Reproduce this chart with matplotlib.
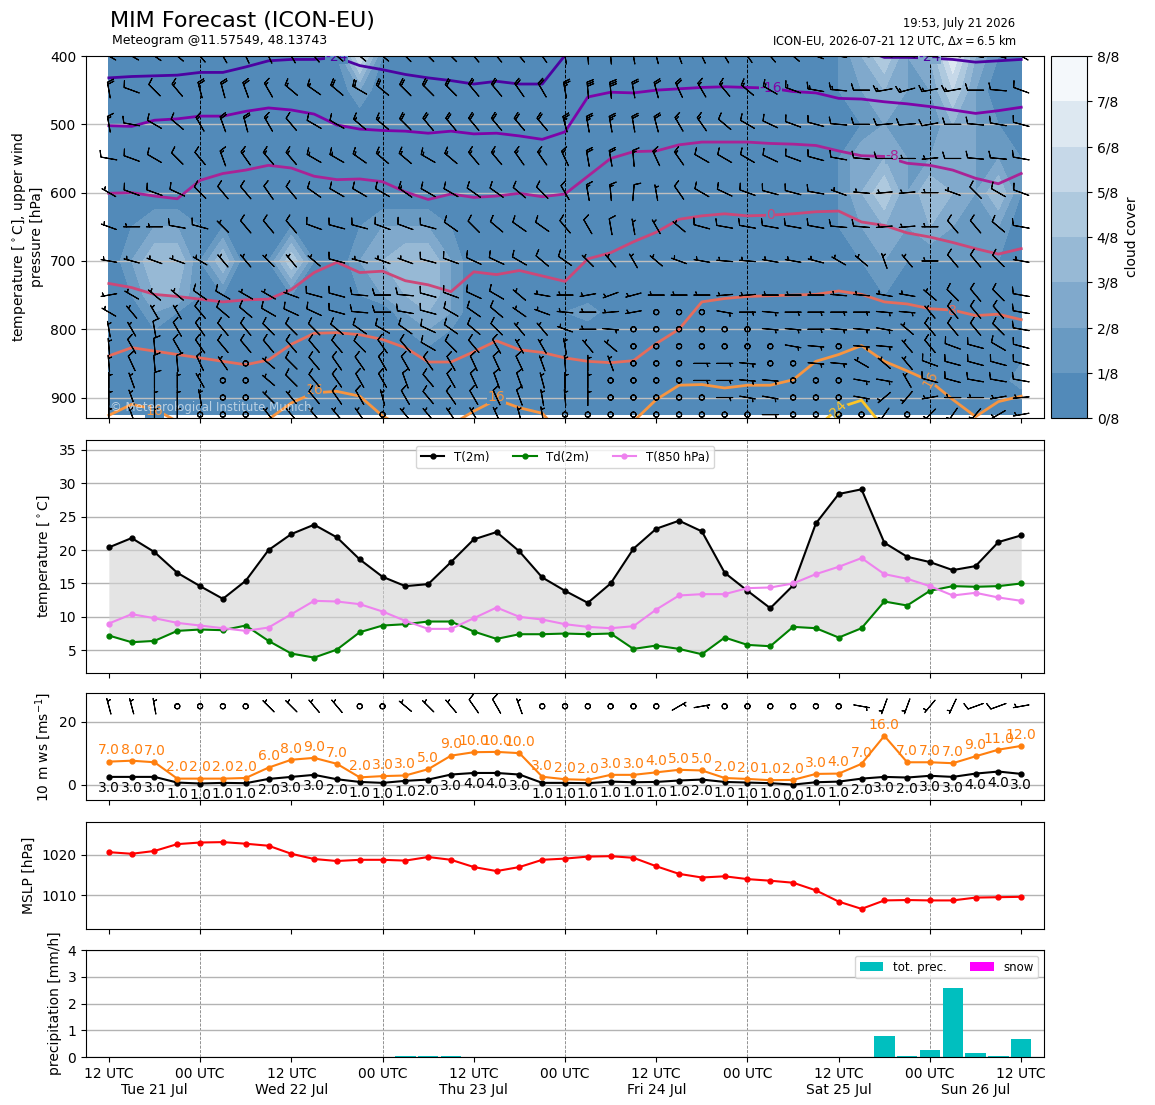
import numpy as np
import matplotlib
matplotlib.use("Agg")
import matplotlib.pyplot as plt
from matplotlib.colors import LinearSegmentedColormap

# ------------------------------------------------------------
# time axis: 3-hourly from 12 UTC Tue 21 Jul (hours since start)
# ------------------------------------------------------------
hours = np.arange(0, 121, 3)
xtick_hours = [0, 12, 24, 36, 48, 60, 72, 84, 96, 108, 120]
xtick_labels = ["12 UTC", "00 UTC", "12 UTC", "00 UTC", "12 UTC", "00 UTC",
                "12 UTC", "00 UTC", "12 UTC", "00 UTC", "12 UTC"]
date_hours = [6, 24, 48, 72, 96, 114]
date_labels = ["Tue 21 Jul", "Wed 22 Jul", "Thu 23 Jul", "Fri 24 Jul", "Sat 25 Jul", "Sun 26 Jul"]
midnight_hours = [12, 36, 60, 84, 108]

# ------------------------------------------------------------
# surface series
# ------------------------------------------------------------
t2m = [20.4, 21.8, 19.7, 16.6, 14.6, 12.7, 15.4, 20.0, 22.4, 23.8,
       21.9, 18.6, 16.0, 14.6, 14.9, 18.2, 21.6, 22.7, 19.8, 15.9,
       13.9, 12.1, 15.0, 20.2, 23.2, 24.4, 22.8, 16.6, 13.9, 11.3,
       14.7, 24.0, 28.4, 29.1, 21.1, 19.0, 18.2, 17.0, 17.6, 21.2, 22.2]
td2m = [7.2, 6.2, 6.4, 7.9, 8.1, 8.0, 8.7, 6.4, 4.5, 3.9,
        5.1, 7.7, 8.7, 8.9, 9.3, 9.3, 7.8, 6.7, 7.4, 7.4,
        7.5, 7.4, 7.5, 5.2, 5.7, 5.2, 4.4, 6.9, 5.8, 5.6,
        8.5, 8.3, 6.9, 8.3, 12.3, 11.7, 13.9, 14.6, 14.5, 14.6, 15.0]
t850 = [9.0, 10.4, 9.8, 9.1, 8.7, 8.3, 7.9, 8.4, 10.4, 12.4,
        12.3, 11.9, 10.8, 9.4, 8.2, 8.2, 9.8, 11.4, 10.0, 9.6,
        8.9, 8.5, 8.3, 8.6, 11.1, 13.2, 13.4, 13.4, 14.3, 14.4,
        15.0, 16.4, 17.5, 18.8, 16.4, 15.7, 14.6, 13.2, 13.6, 12.9, 12.4]

ws10 = [2.55, 2.55, 2.55, 0.75, 0.45, 0.65, 0.55, 1.9, 2.55, 3.2,
        1.8, 0.95, 0.65, 1.3, 1.7, 3.3, 3.8, 3.8, 3.3, 0.65,
        0.65, 0.55, 1.05, 0.85, 0.95, 1.4, 1.7, 0.95, 0.75, 0.55,
        0.1, 0.85, 1.05, 2.0, 2.55, 2.35, 2.9, 2.55, 3.6, 4.25, 3.5]
gust = [7.4, 7.7, 7.2, 2.0, 2.0, 2.0, 2.2, 5.5, 8.0, 8.6,
        6.7, 2.4, 2.8, 3.0, 5.0, 9.3, 10.4, 10.5, 10.1, 2.6,
        1.8, 1.6, 3.2, 3.2, 4.0, 4.8, 4.6, 2.2, 1.9, 1.5,
        1.6, 3.5, 3.6, 6.7, 15.6, 7.2, 7.2, 6.9, 9.1, 11.2, 12.4]
ws10_lbl = [3, 3, 3, 1, 1, 1, 1, 2, 3, 3, 2, 1, 1, 1, 2, 3, 4, 4, 3, 1,
            1, 1, 1, 1, 1, 1, 2, 1, 1, 1, 0, 1, 1, 2, 3, 2, 3, 3, 4, 4, 3]
gust_lbl = [7, 8, 7, 2, 2, 2, 2, 6, 8, 9, 7, 2, 3, 3, 5, 9, 10, 10, 10, 3,
            2, 2, 3, 3, 4, 5, 5, 2, 2, 1, 2, 3, 4, 7, 16, 7, 7, 7, 9, 11, 12]
# 10 m wind barbs (direction from, knots)
w10_dir = [345, 345, 350, 0, 0, 0, 0, 315, 315, 320,
           320, 0, 0, 310, 315, 320, 325, 330, 340, 0,
           0, 0, 0, 0, 0, 60, 80, 0, 0, 0,
           0, 0, 0, 100, 200, 200, 220, 205, 250, 250, 260]
w10_kt = [5, 5, 5, 0, 0, 0, 0, 5, 5, 5,
          5, 0, 0, 5, 5, 5, 10, 10, 5, 0,
          0, 0, 0, 0, 0, 5, 5, 0, 0, 0,
          0, 0, 0, 5, 5, 5, 5, 5, 10, 10, 5]

mslp = [1020.7, 1020.3, 1021.0, 1022.7, 1023.1, 1023.2, 1022.8, 1022.3, 1020.3, 1019.0,
        1018.5, 1018.8, 1018.8, 1018.6, 1019.5, 1018.8, 1017.0, 1016.0, 1017.0, 1018.8,
        1019.1, 1019.6, 1019.7, 1019.3, 1017.2, 1015.3, 1014.4, 1014.7, 1014.0, 1013.6,
        1013.1, 1011.2, 1008.4, 1006.6, 1008.7, 1008.8, 1008.7, 1008.7, 1009.4, 1009.5, 1009.6]

precip = [0, 0, 0, 0, 0, 0, 0, 0, 0, 0,
          0, 0, 0, 0.05, 0.05, 0.05, 0, 0, 0, 0,
          0, 0, 0, 0, 0, 0, 0, 0, 0, 0,
          0, 0, 0, 0, 0.78, 0.03, 0.27, 2.6, 0.16, 0.03, 0.68]
snow = [0] * 41

# ------------------------------------------------------------
# upper air: pressure levels, cloud cover (eighths), wind
# ------------------------------------------------------------
levels = [400, 450, 500, 550, 600, 650, 700, 750, 775, 800, 825, 850, 875, 900, 925]

cc400 = [0,0,0,0,0,0,0,0,0,0, 1,6,1,0,0,0,0,0,0,0, 0,0,0,0,0,0,0,0,0,0, 0,0,1,3,5,2,3,7,3,1, 0]
cc450 = [0,0,0,0,0,0,0,0,0,0, 0,2,0,0,0,0,0,0,0,0, 0,0,0,0,0,0,0,0,0,0, 0,0,1,2,3,2,2,5,2,0, 0]
cc500 = [0,0,0,0,0,0,0,0,0,0, 0,0,0,0,0,0,0,0,0,0, 0,0,0,0,0,0,0,0,0,0, 0,0,0,1,2,1,1,3,2,1, 0]
cc550 = [0,0,0,0,0,0,0,0,0,0, 0,0,0,0,0,0,0,0,0,0, 0,0,0,0,0,0,0,0,0,0, 0,0,1,3,3,2,2,3,2,2, 1]
cc600 = [0,0,0,0,0,0,0,0,0,0, 0,0,0,0,0,0,0,0,0,0, 0,0,0,0,0,0,0,0,0,0, 0,0,1,3,5,2,4,3,2,4, 1]
cc650 = [0,1,2,2,1,1,0,0,1,0, 0,1,2,2,2,1,0,0,0,0, 0,0,0,0,0,0,0,0,0,0, 0,0,1,2,3,2,3,2,2,2, 0]
cc700 = [0,2,4,4,1,4,0,1,5,1, 0,2,3,4,4,2,0,0,0,0, 0,0,0,0,0,0,0,0,0,0, 0,0,0,1,2,1,1,1,1,1, 0]
cc750 = [0,1,3,3,1,1,0,0,1,0, 0,1,2,3,4,2,0,0,0,0, 0,0,0,0,0,0,0,0,0,0, 0,0,0,0,1,0,0,0,0,0, 0]
cc775 = [0,0,2,1,0,0,0,0,0,0, 0,0,0,2,3,2,0,0,0,0, 1,2,0,0,0,0,0,0,0,0, 0,0,0,0,0,0,0,0,0,0, 0]
cc800 = [0,0,1,0,0,0,0,0,0,0, 0,0,0,1,2,1,0,0,1,1, 1,0,0,0,0,0,0,0,0,0, 0,0,0,0,0,0,0,0,0,0, 0]
cc825 = [0,0,0,0,0,0,0,0,0,0, 0,0,0,0,1,1,0,0,0,0, 0,0,0,0,0,0,0,0,0,0, 0,0,0,0,0,0,0,0,0,0, 0]
cc850 = [0,0,0,0,0,0,0,0,0,0, 0,0,0,0,0,0,0,0,0,0, 0,0,0,0,0,0,0,0,0,0, 0,0,0,0,0,0,0,0,0,0, 1]
cc875 = [0,0,0,0,0,0,0,0,0,0, 0,0,0,0,0,0,0,0,0,0, 0,0,0,0,0,0,0,0,0,0, 0,0,0,0,0,0,0,0,0,0, 2]
cc900 = [0,0,0,0,0,0,0,0,0,0, 0,0,0,0,0,0,0,0,0,0, 0,0,0,0,0,0,0,0,0,0, 0,0,0,0,0,0,0,0,0,0, 0]
cc925 = [0,0,0,0,0,0,0,0,0,0, 0,0,0,0,0,0,0,0,0,0, 0,0,0,0,0,0,0,0,0,0, 0,0,0,0,0,0,0,0,0,0, 0]

# isotherms: pressure [hPa] of each isotherm at every time step
iso_m24 = [432, 430, 429, 428, 424, 424, 416, 407, 405, 405, 402, 414, 420, 427, 432, 436, 441, 437, 441, 441,
           399, 380, 380, 380, 380, 380, 380, 380, 380, 380, 380, 380, 380, 390, 402, 402, 403, 405, 409, 407, 405]
iso_m16 = [502, 503, 494, 492, 488, 488, 481, 476, 479, 485, 501, 507, 509, 510, 513, 510, 514, 513, 517, 522,
           511, 460, 453, 454, 450, 448, 446, 445, 446, 447, 452, 454, 462, 463, 467, 470, 474, 479, 484, 480, 475]
iso_m8 = [601, 600, 605, 609, 582, 572, 567, 560, 564, 576, 581, 580, 584, 599, 610, 602, 607, 605, 601, 606,
          602, 576, 550, 540, 539, 530, 526, 526, 526, 528, 529, 531, 539, 546, 547, 557, 560, 567, 579, 587, 572]
iso_0 = [733, 739, 749, 752, 756, 760, 757, 756, 742, 717, 702, 717, 715, 729, 735, 745, 716, 720, 714, 722,
         730, 697, 688, 672, 658, 639, 634, 631, 634, 633, 631, 628, 627, 643, 648, 659, 665, 673, 682, 690, 682]
iso_8 = [839, 827, 832, 837, 842, 847, 852, 845, 822, 806, 805, 808, 815, 827, 848, 848, 833, 817, 830, 834,
         842, 847, 849, 846, 821, 800, 760, 755, 752, 751, 750, 749, 744, 749, 760, 763, 770, 772, 780, 778, 786]
iso_16 = [926, 910, 917, 935, 950, 950, 950, 932, 908, 893, 891, 898, 927, 945, 950, 940, 920, 903, 915, 923,
          960, 960, 960, 935, 903, 882, 881, 886, 882, 882, 874, 847, 837, 824, 847, 861, 876, 903, 928, 906, 898]
iso_24 = [960, 960, 960, 960, 960, 960, 960, 960, 960, 960, 960, 960, 960, 960, 960, 960, 960, 960, 960, 960,
          960, 960, 960, 960, 960, 960, 960, 960, 960, 960, 960, 945, 915, 904, 945, 960, 960, 960, 960, 960, 960]

# upper winds: direction (deg, from) and speed (kt) per level
d400 = [300,300,305,310,320,330,335,335,330,320, 310,310,310,315,315,315,320,320,320,325,
        350,355,355,350,345,340,335,330,325,320, 310,290,280,275,275,275,275,275,280,285, 300]
s400 = [15,15,15,20,20,20,20,20,20,20, 20,20,20,20,25,25,25,25,25,25,
        30,35,35,30,30,25,25,25,25,20, 20,20,20,20,20,20,20,20,20,20, 20]
d450 = [350,290,315,320,345,345,340,330,310,305, 310,300,310,315,315,315,320,320,325,330,
        350,355,355,350,345,335,330,320,310,300, 290,280,275,270,260,255,260,260,270,275, 290]
s450 = [20,10,10,15,20,20,20,15,15,15, 20,20,20,20,20,20,20,20,20,20,
        25,30,30,20,20,20,15,15,15,15, 15,15,15,10,15,15,15,15,10,10, 10]
d500 = [350,280,300,310,330,340,345,330,320,300, 300,310,310,315,320,320,320,320,320,320,
        345,350,350,350,345,330,325,310,300,295, 290,285,275,270,265,265,260,270,275,280, 285]
s500 = [15,10,10,10,15,20,20,15,10,10, 10,15,15,20,20,20,20,20,20,20,
        25,25,25,20,20,15,15,10,10,10, 10,10,10,10,10,10,10,10,10,10, 10]
d550 = [280,290,300,315,320,340,325,320,320,300, 300,305,310,310,300,310,320,320,325,325,
        335,350,350,355,335,325,300,300,300,295, 290,285,280,275,270,270,265,270,275,275, 280]
s550 = [10,10,10,10,10,15,15,15,15,15, 15,15,15,15,15,15,15,15,15,15,
        15,20,20,15,15,15,10,10,10,10, 10,10,10,10,10,5,5,10,10,10, 10]
d600 = [300,290,290,295,315,320,320,325,320,305, 300,300,300,305,300,300,305,305,310,315,
        330,350,355,5,350,325,300,295,290,285, 285,280,290,275,265,265,270,290,315,300, 290]
s600 = [5,10,10,10,10,10,10,10,10,10, 10,10,10,15,10,10,10,10,10,10,
        10,15,15,10,5,10,10,10,10,10, 10,10,5,5,5,5,5,5,10,10, 10]
d650 = [290,270,270,280,285,315,320,320,320,290, 285,285,290,290,285,305,315,310,305,305,
        320,330,350,350,330,310,285,280,280,280, 280,280,275,275,265,265,270,320,320,310, 280]
s650 = [5,5,5,10,10,5,10,10,10,10, 10,10,10,10,10,10,10,10,10,10,
        10,10,10,5,5,5,10,10,10,10, 10,10,10,10,5,5,5,10,10,10, 10]
d700 = [280,285,290,290,300,320,320,315,320,310, 285,285,290,290,285,290,295,295,300,310,
        305,315,320,330,310,290,280,275,275,280, 280,285,300,310,340,320,270,320,320,315, 280]
s700 = [5,5,5,5,5,5,5,5,5,5, 10,5,5,5,10,10,10,10,10,10,
        10,5,5,5,5,5,5,5,5,5, 5,5,5,5,5,5,5,10,10,10, 5]
d750 = [260,300,310,310,305,300,300,300,290,285, 285,275,270,275,285,290,295,300,310,280,
        270,260,250,255,270,270,270,265,265,270, 270,270,275,275,280,280,310,315,320,315, 280]
s750 = [5,5,5,5,10,10,5,5,5,10, 10,10,10,10,10,10,10,10,5,5,
        5,5,5,5,5,5,5,5,5,5, 5,5,5,5,5,5,5,10,10,10, 10]
d775 = [300,320,330,330,320,310,310,300,295,295, 285,275,270,280,285,300,305,310,305,290,
        275,270,265,260,0,0,0,100,90,95, 90,90,90,90,95,95,320,320,320,320, 280]
s775 = [5,5,5,5,10,10,10,10,10,10, 10,10,10,10,10,10,10,10,5,5,
        5,5,5,5,0,0,0,5,5,5, 5,5,5,5,5,5,5,10,10,10, 10]
d800 = [350,330,350,330,325,320,320,315,315,315, 310,305,300,305,295,305,310,315,320,320,
        290,270,95,0,0,0,0,0,0,95, 95,90,95,95,100,310,320,320,320,315, 280]
s800 = [5,5,10,10,10,10,10,10,10,10, 10,10,10,10,10,10,10,10,5,5,
        5,5,5,0,0,0,0,0,0,5, 5,5,5,5,5,5,10,10,10,10, 10]
d825 = [355,330,355,330,325,320,320,320,320,320, 320,315,325,320,300,315,320,330,330,330,
        350,320,310,0,0,0,0,0,0,0, 100,95,0,95,95,320,320,290,285,300, 285]
s825 = [5,10,10,10,10,10,10,10,10,10, 10,10,10,10,10,10,10,10,5,5,
        5,5,5,0,0,0,0,0,0,0, 5,5,0,5,5,5,10,10,10,10, 10]
d850 = [355,335,355,355,335,325,0,310,315,320, 325,325,330,330,325,330,335,335,335,340,
        355,0,340,0,0,0,90,90,95,0, 0,95,95,300,310,320,290,285,285,285, 285]
s850 = [5,10,10,10,10,5,0,5,10,10, 10,10,10,10,10,10,10,10,10,5,
        5,5,5,0,0,0,5,5,5,0, 0,5,5,5,5,5,10,10,10,10, 10]
d875 = [0,340,0,0,330,0,0,310,315,320, 325,330,330,340,320,330,335,340,340,345,
        0,0,0,0,0,0,90,90,95,95, 0,0,0,100,100,330,285,285,280,280, 280]
s875 = [5,5,10,5,5,0,0,5,10,10, 10,10,10,10,10,10,10,10,10,5,
        5,5,0,0,0,0,5,5,5,5, 0,0,0,5,5,5,10,10,10,10, 10]
d900 = [0,340,0,0,350,0,0,315,320,320, 325,330,345,330,320,325,330,335,340,350,
        355,0,0,0,0,0,0,90,100,100, 0,0,0,100,230,220,260,270,270,260, 265]
s900 = [5,5,5,5,5,0,0,5,5,10, 10,10,5,10,10,10,10,10,10,5,
        5,5,0,0,0,0,0,5,5,5, 0,0,0,5,5,5,5,5,5,5, 5]
d925 = [0,340,0,0,0,0,0,320,320,320, 320,325,0,320,320,325,330,335,345,350,
        0,0,0,0,0,0,0,0,0,90, 0,0,0,0,215,0,225,215,220,240, 260]
s925 = [5,5,5,5,0,0,0,5,5,5, 5,5,0,5,5,5,5,5,5,5,
        0,0,0,0,0,0,0,0,0,5, 0,0,0,0,5,0,5,5,5,5, 5]

# ------------------------------------------------------------
# figure
# ------------------------------------------------------------
fig = plt.figure(figsize=(11.55, 11.05), dpi=100)
left, width = 0.0745, 0.8294
ax_top = fig.add_axes([left, 0.6217, width, 0.3276])
cax = fig.add_axes([0.91, 0.6217, 0.0312, 0.3276])
ax_t = fig.add_axes([left, 0.3910, width, 0.2109])
ax_w = fig.add_axes([left, 0.2760, width, 0.0968])
ax_p = fig.add_axes([left, 0.1593, width, 0.0968])
ax_r = fig.add_axes([left, 0.0434, width, 0.0968])

BARB_LEN = 4.8
BARB_SIZES = dict(emptybarb=0.16)

# --- upper panel: cloud cover, isotherms, winds ---
cloud = np.array([cc400, cc450, cc500, cc550, cc600, cc650, cc700, cc750,
                  cc775, cc800, cc825, cc850, cc875, cc900, cc925]) / 8.0
cmap_cc = LinearSegmentedColormap.from_list("cc", ["steelblue", "white"])
cf = ax_top.contourf(hours, levels, cloud, levels=np.arange(9) / 8.0, cmap=cmap_cc, zorder=0)

for y in [500, 600, 700, 800, 900]:
    ax_top.axhline(y, color="0.75", lw=1, zorder=1)
for h in midnight_hours:
    ax_top.axvline(h, color="k", ls="--", lw=0.7, zorder=1)

isotherms = {-24: iso_m24, -16: iso_m16, -8: iso_m8, 0: iso_0, 8: iso_8, 16: iso_16, 24: iso_24}
for temp, pres in isotherms.items():
    ax_top.plot(hours, pres, color=plt.cm.plasma((temp + 32) / 64.0), lw=2, zorder=2)

iso_labels = [(-24, 30, 401, 0), (-24, 108, 401, 0), (-16, 87, 447, 0), (-8, 103, 547, 0),
              (0, 87, 633, 0), (8, 111, 773, 0), (16, 6, 919, 0), (16, 27, 889, 0),
              (16, 51, 899, 0), (16, 108, 873, 60), (24, 96, 917, 45)]
for temp, h, p, rot in iso_labels:
    # label gap takes the local cloud band colour
    ti = int(round(h / 3.0))
    li = int(np.argmin(np.abs(np.array(levels) - p)))
    band = max(int(np.ceil(cloud[li, ti] * 8 - 1e-6)) - 1, 0)
    ax_top.text(h, p, str(temp), color=plt.cm.plasma((temp + 32) / 64.0), fontsize=10,
                ha="center", va="center", rotation=rot, zorder=3, clip_on=True,
                bbox=dict(fc=cmap_cc((band + 0.5) / 8.0), ec="none", pad=0.2))

wd = np.array([d400, d450, d500, d550, d600, d650, d700, d750, d775, d800, d825, d850, d875, d900, d925])
wspd = np.array([s400, s450, s500, s550, s600, s650, s700, s750, s775, s800, s825, s850, s875, s900, s925])
H, P = np.meshgrid(hours, levels)
u = -wspd * np.sin(np.deg2rad(wd))
v = -wspd * np.cos(np.deg2rad(wd))
ax_top.barbs(H, P, u, v, length=BARB_LEN, sizes=BARB_SIZES, pivot="middle", lw=0.8,
             color="k", zorder=4)

ax_top.text(0.025, 0.012, "\u00a9 Meteorological Institute Munich", transform=ax_top.transAxes,
            color="white", alpha=0.6, fontsize=8.5, ha="left", va="bottom", zorder=5)

ax_top.set_ylim(930, 400)
ax_top.set_yticks([400, 500, 600, 700, 800, 900])
ax_top.set_ylabel("temperature [$^\\circ$C], upper wind\npressure [hPa]")

cb = fig.colorbar(cf, cax=cax, ticks=np.arange(9) / 8.0)
cb.ax.set_yticklabels([f"{k}/8" for k in range(9)])
cb.set_label("cloud cover")

# --- temperature panel ---
ax_t.fill_between(hours, t2m, td2m, color="lightgray", alpha=0.6, lw=0)
ax_t.plot(hours, t2m, "o-", color="k", ms=3.5, lw=1.5, label="T(2m)")
ax_t.plot(hours, td2m, "o-", color="green", ms=3.5, lw=1.5, label="Td(2m)")
ax_t.plot(hours, t850, "o-", color="violet", ms=3.5, lw=1.5, label="T(850 hPa)")
ax_t.set_ylim(1.6, 36.5)
ax_t.set_yticks([5, 10, 15, 20, 25, 30, 35])
ax_t.set_ylabel("temperature [$^\\circ$C]")
ax_t.legend(loc="upper center", ncol=3, fontsize=8.5)

# --- 10 m wind panel ---
ax_w.plot(hours, ws10, "o-", color="k", ms=3.5, lw=1.5)
ax_w.plot(hours, gust, "o-", color="tab:orange", ms=3.5, lw=1.5)
for h, val, lbl in zip(hours, gust, gust_lbl):
    ax_w.annotate(f"{lbl:.1f}", (h, val), xytext=(0, 3), textcoords="offset points",
                  ha="center", va="bottom", color="tab:orange", fontsize=10)
for h, val, lbl in zip(hours, ws10, ws10_lbl):
    ax_w.annotate(f"{lbl:.1f}", (h, val), xytext=(0, -3), textcoords="offset points",
                  ha="center", va="top", color="k", fontsize=10)
u10 = -np.array(w10_kt) * np.sin(np.deg2rad(w10_dir))
v10 = -np.array(w10_kt) * np.cos(np.deg2rad(w10_dir))
ax_w.barbs(hours, np.full(len(hours), 25.0), u10, v10, length=BARB_LEN, sizes=BARB_SIZES,
           pivot="middle", lw=0.8, color="k")
ax_w.set_ylim(-4.8, 29.2)
ax_w.set_yticks([0, 20])
ax_w.set_ylabel("10 m ws [ms$^{-1}$]")

# --- MSLP panel ---
ax_p.plot(hours, mslp, "o-", color="red", ms=3.5, lw=1.5)
ax_p.set_ylim(1001.6, 1028.2)
ax_p.set_yticks([1010, 1020])
ax_p.set_ylabel("MSLP [hPa]")

# --- precipitation panel ---
ax_r.bar(hours, precip, width=2.7, color="c", label="tot. prec.", zorder=2)
ax_r.bar(hours, snow, width=2.7, color="magenta", label="snow", zorder=2)
ax_r.set_ylim(0, 4)
ax_r.set_yticks([0, 1, 2, 3, 4])
ax_r.set_ylabel("precipitation [mm/h]")
ax_r.legend(loc="upper right", ncol=2, fontsize=8.5)

# --- common x axis handling ---
for ax in [ax_top, ax_t, ax_w, ax_p, ax_r]:
    ax.set_xlim(-3, 123)
    ax.set_xticks(xtick_hours)
    if ax is ax_r:
        ax.xaxis.remove_overlapping_locs = False
        ax.set_xticklabels(xtick_labels)
        ax.set_xticks(date_hours, minor=True)
        ax.set_xticklabels(date_labels, minor=True)
        ax.tick_params(axis="x", which="minor", length=0, pad=19)
    else:
        ax.set_xticklabels([])
    if ax is not ax_top:
        ax.grid(axis="y", color="0.7", lw=1)
        ax.set_axisbelow(True)
        for h in midnight_hours:
            ax.axvline(h, color="0.5", ls="--", lw=0.6, zorder=0)

# --- header texts ---
fig.text(0.095, 0.981, "MIM Forecast (ICON-EU)", fontsize=16, ha="left", va="center")
fig.text(0.097, 0.963, "Meteogram @11.57549, 48.13743", fontsize=9, ha="left", va="center")
fig.text(0.879, 0.979, "19:53, July 21 2026", fontsize=8.3, ha="right", va="center")
fig.text(0.881, 0.963, "ICON-EU, 2026-07-21 12 UTC, $\\Delta x = 6.5$ km", fontsize=8.3,
         ha="right", va="center")

fig.savefig("out.png", dpi=100)
